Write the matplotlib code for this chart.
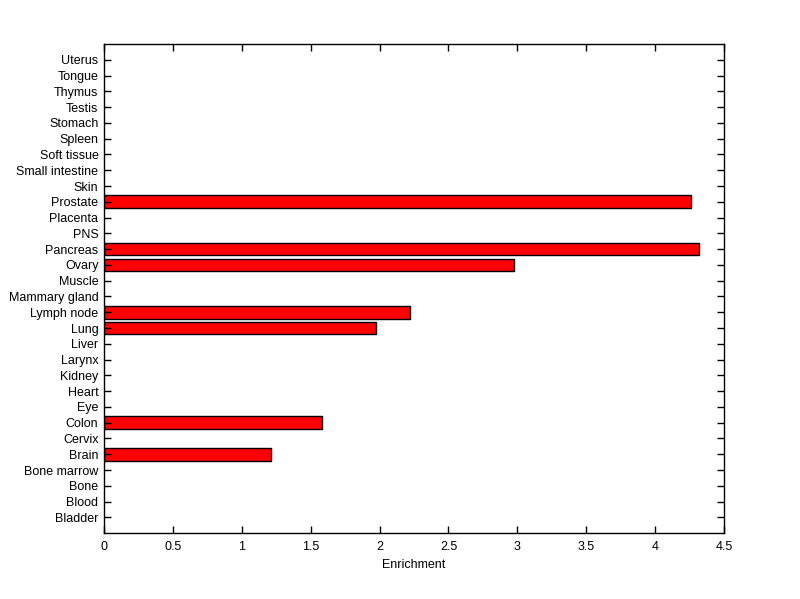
import numpy as np
import matplotlib
matplotlib.use("Agg")
import matplotlib.pyplot as plt

plt.rcParams['font.family'] = ['Liberation Sans', 'DejaVu Sans']

# Datos
tissues = ['Bladder', 'Blood', 'Bone', 'Bone marrow', 'Brain', 'Cervix', 'Colon',
           'Eye', 'Heart', 'Kidney', 'Larynx', 'Liver', 'Lung', 'Lymph node',
           'Mammary gland', 'Muscle', 'Ovary', 'Pancreas', 'PNS', 'Placenta',
           'Prostate', 'Skin', 'Small intestine', 'Soft tissue', 'Spleen',
           'Stomach', 'Testis', 'Thymus', 'Tongue', 'Uterus']
enrichment = [0, 0, 0, 0, 1.21, 0, 1.58,
              0, 0, 0, 0, 0, 1.972, 2.218,
              0, 0, 2.975, 4.315, 0, 0,
              4.258, 0, 0, 0, 0,
              0, 0, 0, 0, 0]
xticks = [0, 0.5, 1, 1.5, 2, 2.5, 3, 3.5, 4, 4.5]

fig = plt.figure(figsize=(8, 5.99), dpi=100)
ax = fig.add_axes([0.13, 0.11, 0.775, 0.8165])

pos = np.arange(1, len(tissues) + 1)
vals = np.array(enrichment)
mask = vals > 0
ax.barh(pos[mask], vals[mask], height=0.8, color='#ff0000', edgecolor='black', linewidth=1)

ax.set_xlim(0, 4.5)
ax.set_ylim(0, len(tissues) + 1)
ax.set_xticks(xticks)
ax.set_xticklabels(['0', '0.5', '1', '1.5', '2', '2.5', '3', '3.5', '4', '4.5'])
ax.set_yticks(pos)
ax.set_yticklabels(tissues)
ax.tick_params(direction='in', length=5, width=1, labelsize=9, top=True, right=True)
ax.tick_params(axis='x', pad=6)
ax.tick_params(axis='y', pad=4)
for s in ax.spines.values():
    s.set_linewidth(1)
ax.set_xlabel('Enrichment', fontsize=9, labelpad=4)

fig.savefig('out.png', dpi=100, facecolor='white')
